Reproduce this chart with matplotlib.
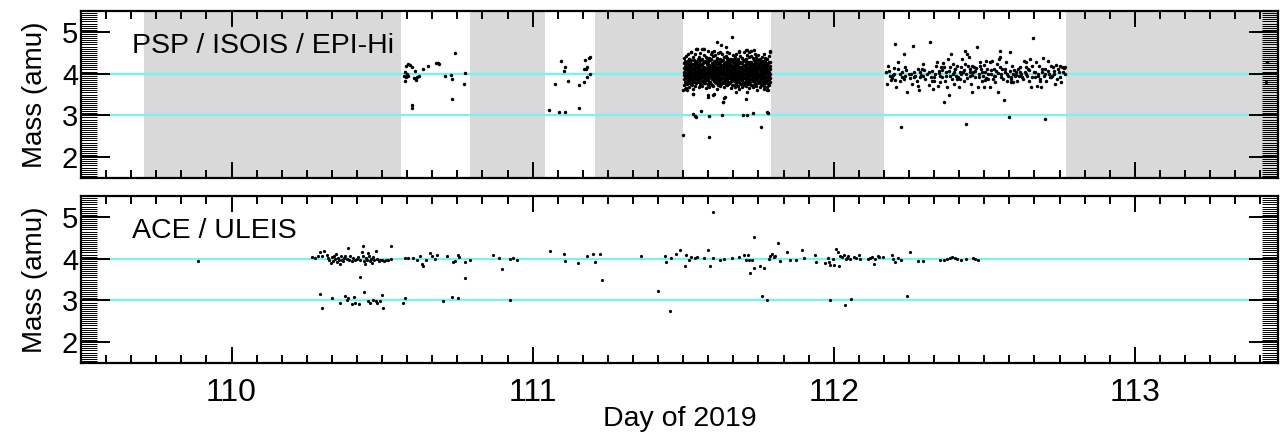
import matplotlib
matplotlib.use("Agg")
import matplotlib.pyplot as plt
from matplotlib.ticker import MultipleLocator

# shaded intervals in the PSP panel (no EPI-Hi coverage)
psp_gaps = [(109.708, 110.563), (110.792, 111.042), (111.208, 111.500),
            (111.792, 112.167), (112.771, 113.50)]

# PSP / ISOIS / EPI-Hi sparse points (day, mass)
psp_points = [
    # day ~110.6-110.78
    (110.579, 4.19), (110.585, 4.23), (110.593, 4.21), (110.599, 4.17),
    (110.576, 4.03), (110.582, 3.99), (110.574, 3.95), (110.580, 3.93),
    (110.585, 3.95), (110.577, 3.82), (110.610, 4.07), (110.607, 3.90),
    (110.612, 3.85), (110.615, 3.93), (110.623, 3.95), (110.637, 4.11),
    (110.651, 4.19), (110.678, 4.25), (110.685, 4.26), (110.689, 4.23),
    (110.742, 4.50), (110.710, 3.95), (110.729, 3.97), (110.731, 3.86),
    (110.777, 4.01), (110.773, 3.75), (110.731, 3.40), (110.601, 3.25),
    (110.599, 3.17),
    # day ~111.05-111.2
    (111.094, 4.31), (111.108, 4.17), (111.105, 4.07), (111.075, 3.75),
    (111.116, 3.83), (111.053, 3.14), (111.089, 3.08), (111.109, 3.09),
    (111.153, 3.17), (111.154, 3.74), (111.172, 3.80), (111.180, 3.93),
    (111.191, 3.99), (111.174, 4.33), (111.191, 4.40), (111.188, 4.37),
    (111.171, 4.12), (111.177, 4.10), (111.181, 4.15),
    # outliers around the dense interval 111.5-111.79
    (111.501, 2.52), (111.586, 2.48), (111.758, 2.71),
    (111.531, 3.04), (111.540, 2.98), (111.543, 2.95), (111.560, 3.10),
    (111.586, 2.98), (111.629, 3.02), (111.700, 3.02), (111.712, 3.00),
    (111.732, 3.05), (111.780, 3.08), (111.783, 3.05),
    (111.661, 4.88), (111.612, 4.77), (111.625, 4.68), (111.641, 4.63),
    (111.787, 4.53), (111.712, 4.56), (111.717, 4.53), (111.684, 4.53),
    (111.546, 4.59), (111.567, 4.59),
    (111.632, 3.31), (111.637, 3.41), (111.707, 3.39), (111.584, 3.44),
    (111.599, 3.48), (111.534, 3.51), (111.501, 3.60), (111.780, 3.61),
    (111.676, 3.56),
    (111.527, 4.51), (111.543, 4.59), (111.562, 4.60), (111.570, 4.60),
    (111.595, 4.51), (111.601, 4.55), (111.621, 4.51), (111.645, 4.52),
    (111.684, 4.55), (111.709, 4.57), (111.725, 4.55), (111.734, 4.57),
    (111.787, 4.55),
    (111.507, 3.63), (111.514, 3.60), (111.534, 3.52), (111.584, 3.48),
    (111.601, 3.52), (111.632, 3.32), (111.640, 3.44), (111.684, 3.63),
    (111.711, 3.56), (111.745, 3.60), (111.767, 3.63), (111.783, 3.60),
    # day ~112.17-112.77
    (112.174, 4.03), (112.179, 4.19), (112.177, 3.75), (112.186, 3.95),
    (112.193, 3.89), (112.199, 4.13), (112.201, 3.99), (112.204, 3.85),
    (112.208, 3.69), (112.204, 4.71), (112.215, 4.27), (112.219, 3.99),
    (112.221, 3.83), (112.224, 2.72), (112.232, 4.48), (112.226, 4.03),
    (112.232, 3.87), (112.238, 3.95), (112.243, 3.56), (112.249, 3.99),
    (112.254, 3.89), (112.260, 3.75), (112.263, 4.67), (112.265, 4.03),
    (112.271, 3.95), (112.276, 3.83), (112.279, 3.71), (112.282, 3.60),
    (112.285, 3.91), (112.287, 4.03), (112.293, 4.11), (112.296, 4.23),
    (112.298, 3.95), (112.304, 3.87), (112.310, 3.99), (112.315, 3.73),
    (112.321, 4.77), (112.323, 3.91), (112.326, 4.07), (112.329, 3.64),
    (112.332, 3.83), (112.337, 3.99), (112.341, 4.19), (112.343, 4.27),
    (112.345, 3.71), (112.348, 4.07), (112.352, 3.95), (112.354, 3.79),
    (112.356, 4.15), (112.359, 3.91), (112.363, 4.25), (112.367, 3.32),
    (112.370, 3.83), (112.374, 4.03), (112.376, 3.67), (112.379, 4.35),
    (112.382, 3.49), (112.385, 3.95), (112.387, 4.15), (112.390, 4.47),
    (112.393, 3.87), (112.396, 4.23), (112.398, 4.03), (112.400, 3.75),
    (112.404, 4.11), (112.407, 3.95), (112.411, 4.19), (112.415, 3.67),
    (112.418, 4.03), (112.420, 3.87), (112.422, 4.15), (112.426, 4.35),
    (112.429, 4.03), (112.431, 3.83), (112.435, 4.23), (112.437, 4.55),
    (112.440, 3.99), (112.440, 2.79), (112.442, 4.47), (112.445, 4.19),
    (112.448, 4.41), (112.451, 3.95), (112.454, 4.11), (112.456, 3.75),
    (112.459, 3.57), (112.462, 4.03), (112.465, 4.15), (112.468, 3.91),
    (112.470, 4.07), (112.476, 4.65), (112.478, 3.67), (112.481, 3.99),
    (112.485, 4.19), (112.487, 4.27), (112.490, 4.11), (112.492, 3.83),
    (112.496, 3.95), (112.498, 3.67), (112.500, 4.21), (112.503, 4.03),
    (112.507, 4.31), (112.509, 4.11), (112.514, 3.87), (112.518, 4.27),
    (112.520, 3.67), (112.522, 3.99), (112.525, 4.31), (112.529, 3.87),
    (112.531, 4.11), (112.533, 3.95), (112.537, 3.79), (112.540, 4.07),
    (112.542, 4.23), (112.544, 3.57), (112.548, 4.35), (112.551, 4.55),
    (112.553, 4.39), (112.555, 3.99), (112.559, 4.11), (112.562, 3.87),
    (112.566, 3.36), (112.570, 4.03), (112.573, 4.27), (112.575, 3.83),
    (112.579, 3.95), (112.582, 2.96), (112.584, 4.52), (112.586, 4.07),
    (112.589, 3.87), (112.592, 4.19), (112.595, 3.99), (112.597, 3.79),
    (112.601, 3.95), (112.604, 4.03), (112.609, 3.83), (112.612, 4.11),
    (112.615, 3.95), (112.620, 4.15), (112.623, 3.99), (112.627, 3.87),
    (112.631, 4.31), (112.634, 4.03), (112.637, 4.27), (112.642, 3.95),
    (112.645, 4.11), (112.648, 3.83), (112.653, 4.35), (112.656, 3.67),
    (112.660, 4.19), (112.662, 4.85), (112.664, 4.03), (112.667, 3.91),
    (112.671, 4.27), (112.675, 3.71), (112.678, 3.99), (112.682, 4.19),
    (112.686, 3.87), (112.689, 3.67), (112.693, 4.03), (112.695, 4.37),
    (112.697, 3.95), (112.700, 2.92), (112.703, 4.11), (112.706, 3.83),
    (112.712, 4.31), (112.715, 3.99), (112.719, 3.91), (112.723, 4.19),
    (112.726, 3.95), (112.730, 4.07), (112.734, 3.75), (112.737, 4.21),
    (112.741, 3.87), (112.747, 4.03), (112.753, 4.19), (112.756, 3.79),
    (112.759, 4.15), (112.764, 4.13), (112.767, 4.15),
    (112.183, 4.06), (112.196, 3.97), (112.212, 4.10), (112.228, 3.93),
    (112.241, 4.08), (112.257, 4.00), (112.268, 3.91), (112.290, 3.97),
    (112.301, 4.09), (112.318, 4.05), (112.334, 3.93), (112.350, 4.01),
    (112.361, 4.09), (112.372, 3.95), (112.383, 4.06), (112.395, 3.98),
    (112.402, 4.12), (112.413, 3.92), (112.424, 4.00), (112.433, 4.08),
    (112.444, 3.90), (112.452, 4.03), (112.460, 3.96), (112.472, 4.13),
    (112.483, 3.93), (112.494, 4.05), (112.505, 3.90), (112.512, 4.00),
    (112.523, 4.09), (112.535, 3.94), (112.546, 4.02), (112.557, 3.92),
    (112.568, 4.10), (112.577, 4.00), (112.588, 3.92), (112.598, 4.09),
    (112.606, 3.97), (112.617, 4.05), (112.625, 3.92), (112.638, 4.00),
    (112.650, 4.08), (112.658, 3.93), (112.669, 4.05), (112.680, 3.94),
    (112.691, 4.10), (112.701, 3.99), (112.710, 4.06), (112.721, 3.92),
    (112.732, 4.00), (112.745, 4.11), (112.751, 3.93), (112.762, 4.04),
    (112.768, 3.98), (112.190, 3.85), (112.236, 4.16), (112.280, 4.12),
    (112.325, 3.83), (112.366, 4.15), (112.409, 3.86), (112.458, 4.18),
    (112.501, 3.84), (112.553, 4.16), (112.590, 3.81), (112.640, 4.16),
    (112.684, 3.82), (112.727, 4.16),
    # right edge
    (113.439, 4.29), (113.437, 3.81),
]

# dense EPI-Hi interval: times and the masses seen at each time
psp_dense_days = [
    111.503, 111.509, 111.515, 111.521, 111.527, 111.533, 111.539, 111.545,
    111.551, 111.557, 111.563, 111.569, 111.575, 111.581, 111.587, 111.593,
    111.599, 111.605, 111.611, 111.617, 111.623, 111.629, 111.635, 111.641,
    111.647, 111.653, 111.659, 111.665, 111.671, 111.677, 111.683, 111.689,
    111.695, 111.701, 111.707, 111.713, 111.719, 111.725, 111.731, 111.737,
    111.743, 111.749, 111.755, 111.761, 111.767, 111.773, 111.779, 111.785,
]
psp_dense_mass = [
    [3.72, 3.88, 3.97, 4.05, 4.14, 4.26, 4.38],
    [3.66, 3.81, 3.93, 4.02, 4.11, 4.21, 4.43],
    [3.77, 3.90, 3.99, 4.08, 4.17, 4.30, 4.47],
    [3.69, 3.84, 3.95, 4.04, 4.12, 4.24, 4.35],
    [3.75, 3.86, 3.98, 4.07, 4.19, 4.33, 4.52],
    [3.63, 3.79, 3.91, 4.01, 4.10, 4.22, 4.40],
    [3.71, 3.87, 3.96, 4.06, 4.15, 4.28, 4.46],
    [3.80, 3.92, 4.00, 4.09, 4.18, 4.31, 4.58],
    [3.67, 3.83, 3.94, 4.03, 4.13, 4.25, 4.39],
    [3.74, 3.89, 3.98, 4.08, 4.20, 4.36, 4.49],
    [3.70, 3.82, 3.93, 4.04, 4.11, 4.23, 4.34],
    [3.78, 3.90, 3.99, 4.07, 4.16, 4.29, 4.44],
    [3.65, 3.85, 3.95, 4.02, 4.14, 4.27, 4.41],
    [3.73, 3.88, 3.97, 4.06, 4.18, 4.32, 4.55],
    [3.68, 3.81, 3.92, 4.01, 4.10, 4.21, 4.37],
    [3.76, 3.91, 4.00, 4.09, 4.19, 4.34, 4.48],
    [3.71, 3.86, 3.96, 4.05, 4.13, 4.24, 4.42],
    [3.79, 3.89, 3.98, 4.08, 4.17, 4.30, 4.45],
    [3.64, 3.83, 3.94, 4.03, 4.12, 4.26, 4.38],
    [3.74, 3.87, 3.97, 4.06, 4.15, 4.28, 4.50],
    [3.70, 3.84, 3.93, 4.02, 4.11, 4.22, 4.36],
    [3.77, 3.90, 3.99, 4.07, 4.18, 4.33, 4.46],
    [3.67, 3.82, 3.95, 4.04, 4.14, 4.25, 4.40],
    [3.75, 3.88, 3.97, 4.06, 4.16, 4.29, 4.43],
    [3.72, 3.85, 3.94, 4.03, 4.12, 4.23, 4.37],
    [3.78, 3.91, 4.00, 4.09, 4.20, 4.35, 4.49],
    [3.66, 3.83, 3.93, 4.01, 4.10, 4.21, 4.34],
    [3.73, 3.87, 3.96, 4.05, 4.15, 4.27, 4.44],
    [3.69, 3.84, 3.95, 4.04, 4.13, 4.24, 4.39],
    [3.76, 3.89, 3.98, 4.07, 4.17, 4.31, 4.47],
    [3.71, 3.82, 3.92, 4.02, 4.11, 4.22, 4.35],
    [3.77, 3.88, 3.97, 4.06, 4.16, 4.28, 4.42],
    [3.68, 3.85, 3.94, 4.03, 4.12, 4.25, 4.38],
    [3.74, 3.90, 3.99, 4.08, 4.19, 4.33, 4.51],
    [3.70, 3.83, 3.93, 4.02, 4.10, 4.21, 4.36],
    [3.79, 3.89, 3.98, 4.07, 4.16, 4.29, 4.45],
    [3.66, 3.84, 3.95, 4.04, 4.13, 4.24, 4.40],
    [3.73, 3.87, 3.96, 4.05, 4.15, 4.27, 4.43],
    [3.69, 3.82, 3.92, 4.01, 4.11, 4.23, 4.37],
    [3.75, 3.88, 3.97, 4.06, 4.17, 4.30, 4.48],
    [3.71, 3.85, 3.94, 4.03, 4.12, 4.25, 4.39],
    [3.78, 3.90, 3.99, 4.08, 4.18, 4.32, 4.44],
    [3.67, 3.83, 3.93, 4.02, 4.11, 4.22, 4.35],
    [3.74, 3.87, 3.96, 4.05, 4.14, 4.26, 4.41],
    [3.70, 3.84, 3.95, 4.04, 4.13, 4.24, 4.46],
    [3.77, 3.89, 3.98, 4.07, 4.16, 4.29, 4.38],
    [3.68, 3.82, 3.92, 4.01, 4.10, 4.21, 4.34],
    [3.73, 3.86, 3.95, 4.04, 4.14, 4.27, 4.42],
]
# second, interleaved set of times in the dense interval
psp_dense_days2 = [
    111.506, 111.512, 111.518, 111.524, 111.530, 111.536, 111.542, 111.548,
    111.554, 111.560, 111.566, 111.572, 111.578, 111.584, 111.590, 111.596,
    111.602, 111.608, 111.614, 111.620, 111.626, 111.632, 111.638, 111.644,
    111.650, 111.656, 111.662, 111.668, 111.674, 111.680, 111.686, 111.692,
    111.698, 111.704, 111.710, 111.716, 111.722, 111.728, 111.734, 111.740,
    111.746, 111.752, 111.758, 111.764, 111.770, 111.776, 111.782, 111.788,
]
psp_dense_mass2 = [
    [3.80, 3.92, 4.00, 4.10, 4.19, 4.31], [3.76, 3.86, 3.96, 4.04, 4.16, 4.27],
    [3.83, 3.94, 4.03, 4.12, 4.22, 4.36], [3.78, 3.89, 3.99, 4.09, 4.18, 4.29],
    [3.74, 3.85, 3.95, 4.05, 4.13, 4.24], [3.81, 3.91, 4.01, 4.11, 4.20, 4.33],
    [3.77, 3.88, 3.98, 4.07, 4.17, 4.26], [3.84, 3.93, 4.02, 4.13, 4.23, 4.34],
    [3.79, 3.87, 3.97, 4.06, 4.15, 4.28], [3.75, 3.90, 4.00, 4.10, 4.21, 4.32],
    [3.82, 3.92, 3.99, 4.08, 4.16, 4.25], [3.78, 3.86, 3.96, 4.05, 4.14, 4.30],
    [3.85, 3.95, 4.04, 4.12, 4.22, 4.37], [3.76, 3.88, 3.98, 4.09, 4.19, 4.27],
    [3.80, 3.91, 4.01, 4.11, 4.18, 4.33], [3.73, 3.87, 3.97, 4.06, 4.15, 4.25],
    [3.82, 3.93, 4.02, 4.10, 4.21, 4.31], [3.77, 3.86, 3.95, 4.04, 4.14, 4.28],
    [3.84, 3.94, 4.03, 4.13, 4.23, 4.35], [3.79, 3.90, 3.99, 4.08, 4.17, 4.26],
    [3.75, 3.88, 3.98, 4.07, 4.16, 4.30], [3.81, 3.92, 4.00, 4.09, 4.20, 4.32],
    [3.78, 3.87, 3.97, 4.05, 4.15, 4.24], [3.83, 3.95, 4.04, 4.12, 4.22, 4.34],
    [3.76, 3.89, 3.99, 4.10, 4.19, 4.29], [3.80, 3.90, 4.01, 4.08, 4.17, 4.27],
    [3.74, 3.86, 3.96, 4.06, 4.14, 4.31], [3.82, 3.93, 4.02, 4.11, 4.21, 4.36],
    [3.77, 3.88, 3.98, 4.07, 4.18, 4.26], [3.85, 3.94, 4.03, 4.13, 4.22, 4.33],
    [3.79, 3.91, 4.00, 4.09, 4.16, 4.28], [3.75, 3.87, 3.97, 4.05, 4.15, 4.25],
    [3.81, 3.92, 4.01, 4.10, 4.20, 4.32], [3.78, 3.89, 3.99, 4.08, 4.19, 4.30],
    [3.83, 3.95, 4.04, 4.12, 4.23, 4.35], [3.76, 3.86, 3.96, 4.06, 4.14, 4.27],
    [3.80, 3.90, 4.00, 4.11, 4.18, 4.29], [3.74, 3.88, 3.98, 4.07, 4.17, 4.24],
    [3.82, 3.93, 4.02, 4.09, 4.21, 4.33], [3.77, 3.87, 3.97, 4.05, 4.16, 4.28],
    [3.84, 3.94, 4.03, 4.13, 4.22, 4.36], [3.79, 3.91, 4.00, 4.10, 4.19, 4.26],
    [3.75, 3.86, 3.96, 4.06, 4.15, 4.31], [3.81, 3.92, 4.01, 4.09, 4.20, 4.30],
    [3.78, 3.89, 3.99, 4.08, 4.17, 4.27], [3.83, 3.93, 4.02, 4.12, 4.21, 4.34],
    [3.76, 3.88, 3.98, 4.07, 4.16, 4.25], [3.80, 3.90, 4.00, 4.10, 4.18, 4.29],
]

# ACE / ULEIS points (day, mass)
ace_points = [
    (109.890, 3.94),
    (110.268, 4.03), (110.277, 4.01), (110.286, 4.07), (110.294, 4.15),
    (110.299, 4.06), (110.308, 4.18), (110.316, 4.10), (110.322, 4.02),
    (110.325, 3.96), (110.329, 3.90), (110.333, 4.04), (110.336, 3.94),
    (110.340, 4.07), (110.344, 3.99), (110.347, 4.12), (110.352, 3.91),
    (110.355, 4.02), (110.358, 3.96), (110.360, 3.88), (110.364, 4.06),
    (110.367, 3.98), (110.371, 3.94), (110.375, 4.02), (110.378, 4.07),
    (110.382, 3.99), (110.386, 4.26), (110.389, 3.96), (110.394, 4.06),
    (110.399, 3.94), (110.405, 4.02), (110.410, 3.98), (110.416, 3.99),
    (110.421, 4.04), (110.427, 3.96), (110.432, 4.15), (110.436, 4.07),
    (110.438, 4.31), (110.440, 3.94), (110.443, 3.88), (110.447, 4.02),
    (110.451, 3.96), (110.454, 4.14), (110.458, 4.06), (110.460, 3.94),
    (110.462, 3.99), (110.466, 3.90), (110.469, 4.04), (110.473, 3.96),
    (110.480, 4.18), (110.484, 3.99), (110.489, 3.94), (110.493, 3.98),
    (110.499, 3.96), (110.507, 3.94), (110.513, 3.98), (110.521, 3.96),
    (110.529, 4.31), (110.530, 3.99), (110.576, 4.02), (110.587, 4.02),
    (110.604, 4.02), (110.617, 3.98), (110.626, 4.06), (110.632, 3.88),
    (110.637, 3.82), (110.646, 3.98), (110.659, 4.14), (110.665, 4.06),
    (110.676, 3.99), (110.681, 4.10), (110.715, 4.06), (110.737, 3.91),
    (110.742, 3.95), (110.751, 4.10), (110.756, 4.04), (110.776, 3.93),
    (110.792, 3.98), (110.870, 4.10), (110.890, 4.02), (110.897, 3.76),
    (110.925, 3.99), (110.936, 4.02), (110.949, 3.98), (111.058, 4.19),
    (111.104, 4.11), (111.106, 3.95), (111.150, 3.90),
    (110.427, 3.56), (110.777, 3.54),
    (110.294, 3.16), (110.301, 2.83), (110.333, 3.05), (110.360, 2.95),
    (110.378, 3.11), (110.382, 3.02), (110.388, 3.06), (110.399, 2.92),
    (110.407, 3.08), (110.410, 2.95), (110.423, 2.92), (110.440, 3.19),
    (110.454, 2.98), (110.460, 2.95), (110.471, 3.00), (110.479, 2.98),
    (110.482, 2.94), (110.493, 2.98), (110.500, 3.13), (110.504, 2.82),
    (110.571, 2.94), (110.575, 3.05), (110.704, 2.98), (110.731, 3.08),
    (110.751, 3.06), (110.925, 3.02),
    (111.180, 4.06), (111.199, 4.12), (111.208, 3.91), (111.224, 4.12),
    (111.230, 3.50), (111.360, 4.06), (111.418, 3.22), (111.455, 2.75),
    (111.440, 4.07), (111.443, 3.91), (111.459, 4.02), (111.477, 4.12),
    (111.490, 4.22), (111.505, 3.82), (111.510, 4.10), (111.518, 3.98),
    (111.527, 4.04), (111.540, 4.02), (111.546, 4.04), (111.570, 4.02),
    (111.584, 4.20), (111.588, 3.82), (111.599, 5.12), (111.598, 4.02),
    (111.623, 3.98), (111.636, 3.99), (111.662, 4.02), (111.684, 4.04),
    (111.701, 4.10), (111.709, 3.98), (111.715, 4.10), (111.717, 3.96),
    (111.723, 3.66), (111.728, 3.96), (111.734, 3.78), (111.736, 4.51),
    (111.756, 3.82), (111.762, 3.10), (111.770, 3.78), (111.778, 3.00),
    (111.784, 3.99), (111.789, 4.07), (111.795, 4.12), (111.800, 4.04),
    (111.806, 4.07), (111.815, 4.38), (111.820, 3.94), (111.845, 4.15),
    (111.856, 3.98), (111.876, 3.98), (111.894, 4.22), (111.902, 4.02),
    (111.937, 4.10), (111.941, 3.91), (111.972, 3.90), (111.980, 4.02),
    (111.983, 3.91), (111.986, 3.00), (111.989, 3.84), (111.997, 3.99),
    (112.002, 3.86), (112.008, 4.23), (112.013, 4.15), (112.017, 3.83),
    (112.022, 4.06), (112.027, 4.04), (112.033, 4.10), (112.036, 2.88),
    (112.040, 3.99), (112.044, 4.02), (112.047, 4.06), (112.057, 3.03),
    (112.055, 3.99), (112.066, 4.04), (112.075, 4.02), (112.085, 4.10),
    (112.086, 3.99), (112.113, 3.99), (112.119, 4.02), (112.127, 4.04),
    (112.133, 3.88), (112.138, 3.99), (112.146, 4.07), (112.152, 4.04),
    (112.164, 4.04), (112.193, 4.10), (112.197, 3.99), (112.202, 3.91),
    (112.212, 4.02), (112.223, 3.96), (112.245, 3.10), (112.254, 4.15),
    (112.280, 3.94), (112.296, 3.94), (112.352, 3.98), (112.365, 3.98),
    (112.376, 3.99), (112.385, 4.02), (112.393, 4.04), (112.402, 4.02),
    (112.409, 3.99), (112.424, 3.96), (112.440, 3.99), (112.462, 4.02),
    (112.470, 3.99), (112.478, 3.96),
]

panel_labels = ["PSP / ISOIS / EPI-Hi", "ACE / ULEIS"]
ref_masses = [3, 4]

plt.rcParams['font.family'] = ['Liberation Sans', 'DejaVu Sans']

fig = plt.figure(figsize=(12.87, 4.37), dpi=100)
ax1 = fig.add_axes([0.0629, 0.5927, 0.930, 0.382])
ax2 = fig.add_axes([0.0629, 0.1693, 0.930, 0.382])


def style_axes(ax, label):
    ax.set_xlim(109.5, 113.475)
    ax.set_ylim(1.5, 5.5)
    for m in ref_masses:
        ax.axhline(m, color='#74f4f4', lw=1.6, zorder=1)
    ax.xaxis.set_major_locator(MultipleLocator(1))
    ax.xaxis.set_minor_locator(MultipleLocator(1 / 12))
    ax.yaxis.set_major_locator(MultipleLocator(1))
    ax.yaxis.set_minor_locator(MultipleLocator(0.05))
    ax.tick_params(which='both', direction='in', top=True, right=True,
                   color='k')
    ax.tick_params(axis='x', which='major', length=11.5, width=1.4, pad=11,
                   labelsize=23)
    ax.tick_params(axis='x', which='minor', length=5.8, width=1.4)
    ax.tick_params(axis='y', which='major', length=21, width=1.4, pad=2,
                   labelsize=21)
    ax.tick_params(axis='y', which='minor', length=11.5, width=0.7)
    for s in ax.spines.values():
        s.set_linewidth(1.6)
    ax.set_ylabel('Mass (amu)', fontsize=20, labelpad=10)
    ax.text(0.043, 0.75, label, transform=ax.transAxes, fontsize=20.5,
            va='baseline', zorder=5)


for a, b in psp_gaps:
    ax1.axvspan(a, b, color='#d9d9d9', lw=0, zorder=0)

style_axes(ax1, panel_labels[0])
style_axes(ax2, panel_labels[1])
ax1.tick_params(axis='x', labelbottom=False)

px, pm = zip(*psp_points)
ax1.plot(px, pm, 'o', color='k', ms=2.5, mew=0, zorder=3)
dx = [d for d, row in zip(psp_dense_days, psp_dense_mass) for _ in row]
dm = [m for row in psp_dense_mass for m in row]
dx += [d for d, row in zip(psp_dense_days2, psp_dense_mass2) for _ in row]
dm += [m for row in psp_dense_mass2 for m in row]
ax1.plot(dx, dm, 'o', color='k', ms=2.5, mew=0, zorder=3)

ax_, am = zip(*ace_points)
ax2.plot(ax_, am, 'o', color='k', ms=2.3, mew=0, zorder=3)

ax2.set_xlabel('Day of 2019', fontsize=20.5, labelpad=-2)

fig.savefig('out.png', dpi=100)
